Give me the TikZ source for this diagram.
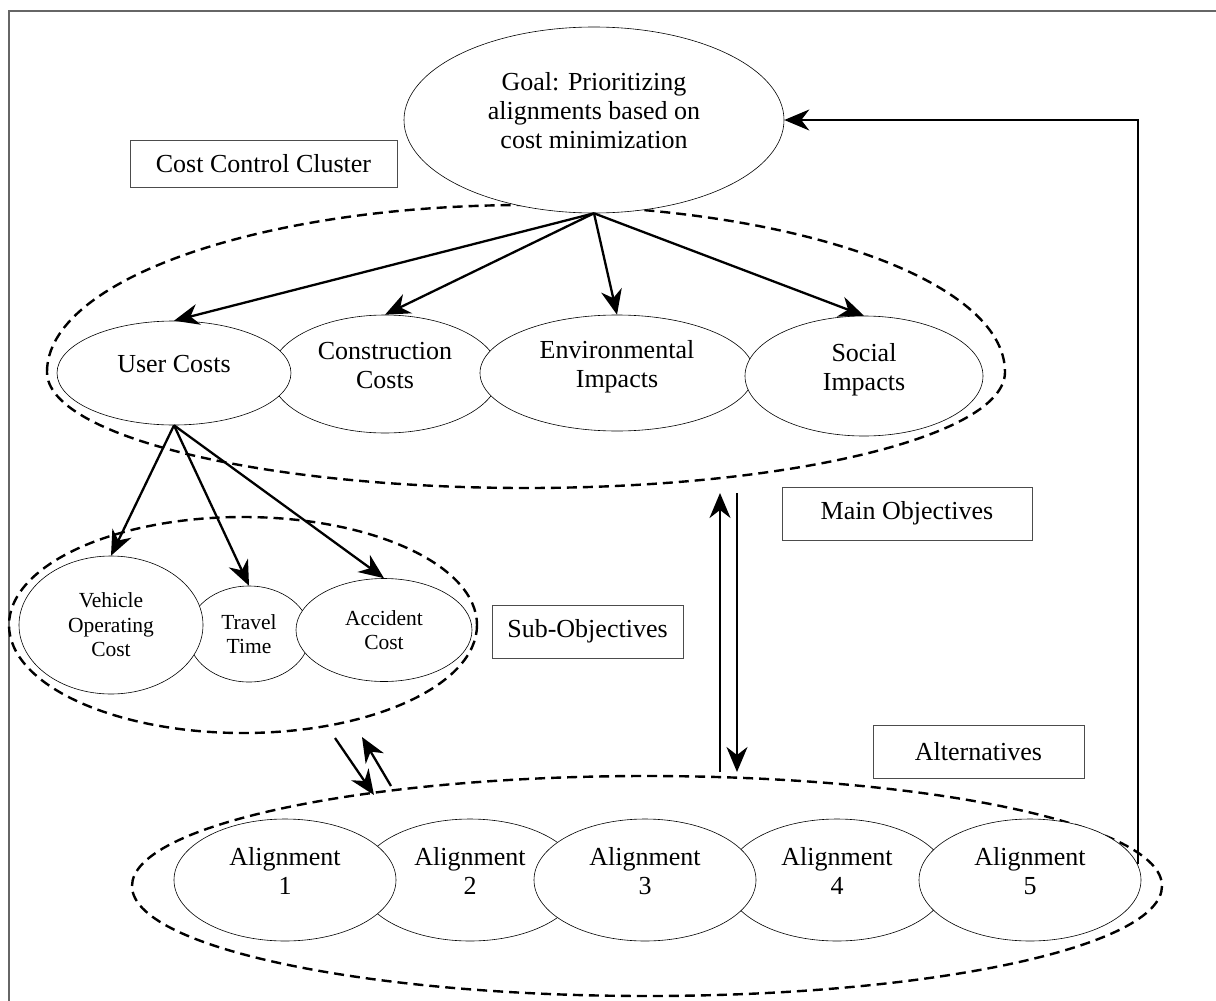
\documentclass[tikz,border=0pt]{standalone}
\usepackage{fontspec}
\setmainfont{Liberation Serif}
\usetikzlibrary{shapes.geometric,arrows.meta}
\newcommand{\liftxt}[1]{\raisebox{0pt}[0pt][0pt]{\begin{tabular}{@{}c@{}}#1\end{tabular}}}
\begin{document}
\begin{tikzpicture}[x=1pt,y=-1pt,
  bubble/.style={ellipse,draw=black,line width=0.6pt,fill=white,inner sep=0pt,align=center,font=\fontsize{26}{29}\selectfont},
  smallbubble/.style={bubble,font=\fontsize{21.5}{24.5}\selectfont},
  label box/.style={rectangle,draw=black!70,line width=0.8pt,fill=white,inner sep=0pt,font=\fontsize{26}{29}\selectfont},
  grp/.style={dash pattern=on 10pt off 6pt,line width=2.4pt},
  arr/.style={line width=2.3pt,-{Stealth[length=25pt,width=21pt,inset=8pt]}},
  frame/.style={draw=black!60,line width=1.3pt}]
\useasboundingbox (0,0) rectangle (1216,1001);
\draw[frame] (9,1001) -- (9,11) -- (1216,11);

% group outlines
\draw[grp] (47,372) arc[start angle=180,end angle=360,x radius=479,y radius=167]
                    arc[start angle=0,end angle=180,x radius=479,y radius=116];
\draw[grp] (243,625) ellipse[x radius=234,y radius=108];
\draw[grp] (647,886) ellipse[x radius=515,y radius=110];

% goal
\node[bubble,minimum width=380pt,minimum height=186pt] (goal) at (594,120)
  {\liftxt{Goal: Prioritizing\\alignments based on\\cost minimization}};
\node[label box,minimum width=267pt,minimum height=47pt] (ccc) at (263.5,163.5) {Cost Control Cluster};

% main objectives
\node[bubble,minimum width=228pt,minimum height=118pt] (cons) at (385,374) {\liftxt{Construction\\Costs}};
\node[bubble,minimum width=234pt,minimum height=104pt] (user) at (174,373) {\liftxt{User Costs}};
\node[bubble,minimum width=274pt,minimum height=116pt] (env) at (617,373) {\liftxt{Environmental\\Impacts}};
\node[bubble,minimum width=238pt,minimum height=120pt] (soc) at (864,376) {\liftxt{Social\\Impacts}};

% sub objectives
\node[smallbubble,minimum width=122pt,minimum height=96pt] (travel) at (249,634) {Travel\\Time};
\node[smallbubble,minimum width=184pt,minimum height=138pt] (veh) at (111,625) {Vehicle\\Operating\\Cost};
\node[smallbubble,minimum width=176pt,minimum height=103pt] (acc) at (384,630) {Accident\\Cost};

% alternatives
\node[bubble,minimum width=222pt,minimum height=122pt] (a2) at (470,880) {\liftxt{Alignment\\2}};
\node[bubble,minimum width=222pt,minimum height=122pt] (a4) at (837,880) {\liftxt{Alignment\\4}};
\node[bubble,minimum width=222pt,minimum height=122pt] (a1) at (285,880) {\liftxt{Alignment\\1}};
\node[bubble,minimum width=222pt,minimum height=122pt] (a3) at (645,880) {\liftxt{Alignment\\3}};
\node[bubble,minimum width=222pt,minimum height=122pt] (a5) at (1030,880) {\liftxt{Alignment\\5}};

% labels
\node[label box,minimum width=250pt,minimum height=53pt] (mainobj) at (907,513.5) {Main Objectives};
\node[label box,minimum width=191pt,minimum height=53pt] (subobj) at (587.5,631.5) {Sub-Objectives};
\node[label box,minimum width=211pt,minimum height=53pt] (altl) at (978.5,751.5) {Alternatives};

% arrows goal -> main objectives
\draw[arr] (goal.south) -- (user.north);
\draw[arr] (goal.south) -- (cons.north);
\draw[arr] (goal.south) -- (env.north);
\draw[arr] (goal.south) -- (soc.north);

% arrows user costs -> sub objectives
\draw[arr] (user.south) -- (veh.north);
\draw[arr] (user.south) -- (travel.north);
\draw[arr] (user.south) -- (acc.north);

% double arrows
\coordinate (upb) at (720,772);
\coordinate (upt) at (720,493);
\coordinate (dnt) at (737,493);
\coordinate (dnb) at (737,772);
\draw[arr] (upb) -- (upt);
\draw[arr] (dnt) -- (dnb);

\coordinate (sdt) at (335,738);
\coordinate (sdb) at (374,795);
\coordinate (sub) at (391,786);
\coordinate (sut) at (362,737);
\draw[arr] (sdt) -- (sdb);
\draw[arr] (sub) -- (sut);

% feedback
\coordinate (fbstart) at (1138,864);
\draw[arr,line width=1.6pt] (fbstart) |- (goal.east);
\end{tikzpicture}
\end{document}
